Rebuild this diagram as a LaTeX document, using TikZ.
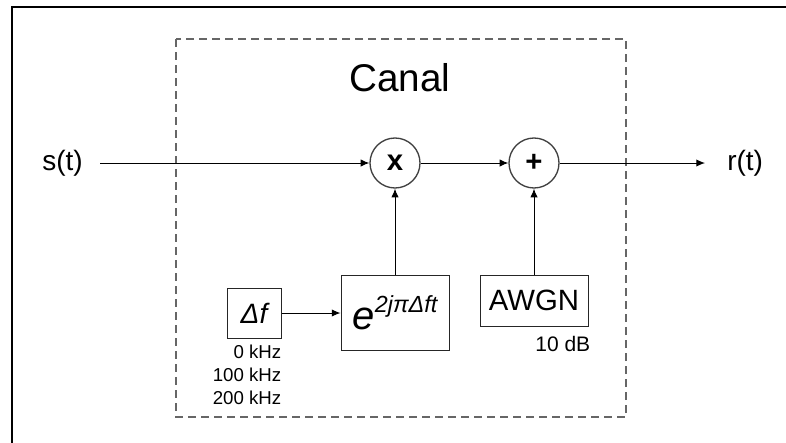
\documentclass[tikz,border=0pt]{standalone}
\usepackage{fontspec}
\setmainfont{Liberation Sans}
\usetikzlibrary{arrows.meta,positioning}
\tikzset{
  blk/.style={draw=black!85, line width=0.75pt, align=center, inner sep=0pt, fill=white},
  mixer/.style={draw=black!75, circle, line width=1pt, minimum size=37.5pt, inner sep=0pt, font=\fontsize{22}{22}\selectfont\bfseries},
  arrow/.style={-{Latex[length=6.5pt,width=5.5pt]}, line width=0.75pt},
  sig/.style={font=\fontsize{21}{24}\selectfont, inner ysep=0pt},
  note/.style={font=\fontsize{14}{17}\selectfont, align=right, inner sep=0pt}
}

\begin{document}
\begin{tikzpicture}[
  x=0.75pt,y=-0.75pt,
  chan/.style={black!60, line width=0.9pt, dash pattern=on 6pt off 3.75pt}
]
  \useasboundingbox (0,0) rectangle (786,443);
  \draw[line width=1.5pt] (12,443) -- (12,7) -- (786,7);
  \draw[chan] (176,39) rectangle (626,417);
  \node[font=\fontsize{29}{32}\selectfont, anchor=base] (title) at (400,91) {Canal};

  \node[sig, anchor=east, inner xsep=12.75pt] (sin) at (100,163) {s(t)};
  \node[mixer] (mult) at (395,163) {x};
  \node[mixer] (add) at (534,163) {+};
  \node[sig, anchor=west, inner xsep=16.5pt] (sout) at (705,163) {r(t)};

  \node[blk, minimum width=40.5pt, minimum height=37.5pt, font=\fontsize{21}{24}\selectfont\itshape] (dfreq) at (254,313) {Δf};
  \node[blk, minimum width=81pt, minimum height=56.25pt] (expo) at (395,312.5) {{\fontsize{30}{30}\selectfont\itshape e}\raisebox{12.75pt}{\fontsize{17.5}{20}\selectfont\itshape 2jπΔft}};
  \node[blk, minimum width=81pt, minimum height=38.25pt, font=\fontsize{22}{24}\selectfont] (noise) at (534,300.5) {AWGN};
  \node[note, anchor=north east] (dfvals) at ([yshift=-5pt]dfreq.south east) {0 kHz\\100 kHz\\200 kHz};
  \node[note, anchor=north east, font=\fontsize{15.75}{18}\selectfont] (snr) at ([xshift=1.5pt,yshift=-7pt]noise.south east) {10 dB};

  \draw[arrow] (sin) -- (mult);
  \draw[arrow] (mult) -- (add);
  \draw[arrow] (add) -- (sout);
  \draw[arrow] (dfreq.east) -- (dfreq.east -| expo.west);
  \draw[arrow] (expo) -- (mult);
  \draw[arrow] (noise) -- (add);
\end{tikzpicture}
\end{document}
